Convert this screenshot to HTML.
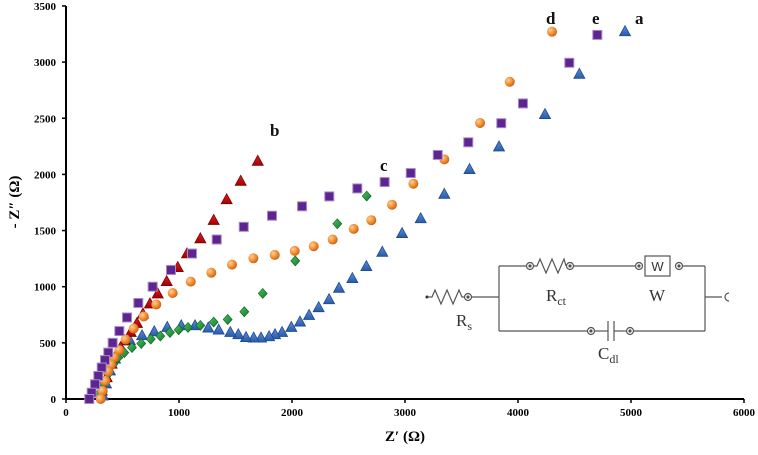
<!DOCTYPE html>
<html><head><meta charset="utf-8"><style>
body{margin:0;background:#fff;width:758px;height:450px;overflow:hidden}
svg text{font-family:"Liberation Serif",serif}
</style></head><body>
<svg id="chart" width="758" height="450">
<defs>
<radialGradient id="og" cx="0.35" cy="0.35" r="0.7"><stop offset="0" stop-color="#ffd09a"/><stop offset="0.6" stop-color="#f08a2a"/><stop offset="1" stop-color="#c4601a"/></radialGradient>
<linearGradient id="bg" x1="0" y1="0" x2="0" y2="1"><stop offset="0" stop-color="#5b8ed8"/><stop offset="1" stop-color="#2a5aa8"/></linearGradient>
<linearGradient id="rg" x1="0" y1="0" x2="0" y2="1"><stop offset="0" stop-color="#e02020"/><stop offset="1" stop-color="#a00000"/></linearGradient>
<linearGradient id="gg" x1="0" y1="0" x2="1" y2="1"><stop offset="0" stop-color="#4cc060"/><stop offset="1" stop-color="#127a2a"/></linearGradient>
</defs>
<g id="axes"></g>
<g id="marks"></g>
<g id="circuit" stroke="#555" stroke-width="1.2" fill="none">
<circle cx="427" cy="297" r="1.5" fill="#222" stroke="none"/>
<polyline points="427,297 432,297 435,290 441,304 447,290 453,304 459,290 462,297 464,297"/>
<circle cx="468" cy="297" r="3.5"/><circle cx="468" cy="297" r="1" fill="#333"/>
<line x1="472" y1="297" x2="499" y2="297"/>
<line x1="499" y1="266" x2="499" y2="331"/>
<line x1="499" y1="266" x2="526" y2="266"/>
<circle cx="530" cy="266" r="3.5"/><circle cx="530" cy="266" r="1" fill="#333"/>
<polyline points="534,266 537,266 540,259 546,273 552,259 558,273 564,259 566,266"/>
<circle cx="570" cy="266" r="3.5"/><circle cx="570" cy="266" r="1" fill="#333"/>
<line x1="574" y1="266" x2="635" y2="266"/>
<circle cx="639" cy="266" r="3.5"/><circle cx="639" cy="266" r="1" fill="#333"/>
<rect x="645" y="256" width="25" height="20"/>
<circle cx="679" cy="266" r="3.5"/><circle cx="679" cy="266" r="1" fill="#333"/>
<line x1="683" y1="266" x2="705" y2="266"/>
<line x1="705" y1="266" x2="705" y2="331"/>
<line x1="705" y1="297" x2="722" y2="297"/>
<path d="M729,293 A4,4 0 1 0 729,301"/>
<line x1="499" y1="331" x2="587" y2="331"/>
<circle cx="591" cy="331" r="3.5"/><circle cx="591" cy="331" r="1" fill="#333"/>
<line x1="595" y1="331" x2="608" y2="331"/>
<line x1="608" y1="321" x2="608" y2="341"/><line x1="614" y1="321" x2="614" y2="341"/>
<line x1="614" y1="331" x2="626" y2="331"/>
<circle cx="630" cy="331" r="3.5"/><circle cx="630" cy="331" r="1" fill="#333"/>
<line x1="634" y1="331" x2="705" y2="331"/>
<text x="657.5" y="271" font-size="13" fill="#333" stroke="none" text-anchor="middle" style="font-family:'Liberation Sans',sans-serif">W</text>
</g>
<g fill="#333" font-size="17">
<text x="456" y="326">R<tspan font-size="12" dy="4">s</tspan></text>
<text x="546" y="301">R<tspan font-size="12" dy="4">ct</tspan></text>
<text x="649" y="301">W</text>
<text x="598" y="359">C<tspan font-size="12" dy="4">dl</tspan></text>
</g>
<g font-weight="bold" font-size="17" fill="#111">
<text x="270" y="136">b</text>
<text x="380" y="171">c</text>
<text x="546" y="24">d</text>
<text x="592" y="24">e</text>
<text x="635" y="24">a</text>
</g>
<text x="405" y="441" font-size="15" font-weight="bold" text-anchor="middle">Z′ (Ω)</text>
<text transform="translate(19,202) rotate(-90)" font-size="15" font-weight="bold" text-anchor="middle">- Z″ (Ω)</text>
</svg>
<script>
const xTicks=[0,1000,2000,3000,4000,5000,6000];
const yTicks=[0,500,1000,1500,2000,2500,3000,3500];
const aX=[4947,4543,4239,3832,3571,3348,3139,2974,2799,2658,2534,2416,2328,2236,2151,2071,1994,1912,1850,1797,1726,1661,1593,1525,1454,1351,1259,1142,1020,896,781,673,566,478,434,389,354,327];
const aY=[3271,2891,2533,2244,2043,1822,1605,1473,1306,1179,1072,985,884,813,744,685,637,592,572,554,542,542,547,572,592,613,631,652,652,637,598,563,518,444,355,250,134,27];
const bX=[1697,1546,1422,1307,1189,1071,989,891,812,743,681,628,573,522,484,449,404,360,316];
const bY=[2116,1938,1774,1590,1426,1292,1170,1045,935,846,756,672,592,518,458,399,310,190,71];
const cX=[2661,2401,2029,1741,1578,1431,1307,1189,1080,997,920,835,750,666,584,516,463,419,374,330,292];
const cY=[1807,1560,1230,940,777,708,685,655,637,616,592,560,533,494,458,413,369,310,223,134,45];
const dX=[4301,3927,3664,3348,3074,2885,2702,2546,2360,2192,2024,1847,1658,1469,1286,1104,944,799,688,599,528,472,427,398,374,348,325,307];
const dY=[3271,2825,2458,2134,1917,1730,1592,1515,1420,1360,1319,1283,1253,1197,1125,1045,944,842,735,628,530,435,369,304,244,161,71,0];
const eX=[4702,4454,4044,3852,3560,3290,3051,2820,2578,2330,2089,1823,1573,1334,1115,929,767,640,540,472,413,374,345,316,286,257,227,206];
const eY=[3242,2994,2632,2456,2286,2173,2012,1932,1875,1804,1716,1632,1533,1420,1295,1149,1000,855,726,605,500,413,346,280,205,131,56,0];

const X=v=>66+v*0.113, Y=v=>399-v*0.1123;
const NS='http://www.w3.org/2000/svg';
function mk(tag,attrs,parent){const e=document.createElementNS(NS,tag);for(const k in attrs)e.setAttribute(k,attrs[k]);parent.appendChild(e);return e;}
const axes=document.getElementById('axes'), marks=document.getElementById('marks');
let ax=mk('line',{x1:66,y1:Y(0),x2:X(6000),y2:Y(0),stroke:'#000','stroke-width':2},axes);


let ay=mk('line',{x1:66,y1:Y(0),x2:66,y2:Y(3500),stroke:'#000','stroke-width':2},axes);


xTicks.forEach(t=>{
  mk('line',{x1:X(t),y1:Y(0),x2:X(t),y2:Y(0)+4,stroke:'#000','stroke-width':1.5},axes);
  const tx=mk('text',{x:X(t),y:Y(0)+17,'font-size':11,'font-weight':'bold','text-anchor':'middle'},axes);
  tx.textContent=t;
  
  
});
yTicks.forEach(t=>{
  mk('line',{x1:62,y1:Y(t),x2:66,y2:Y(t),stroke:'#000','stroke-width':1.5},axes);
  const tx=mk('text',{x:56,y:Y(t)+4,'font-size':11,'font-weight':'bold','text-anchor':'end'},axes);
  tx.textContent=t;
  
  
});
function tri(x,y,fill,stroke){return mk('polygon',{points:`${x},${y-6} ${x+5.5},${y+4} ${x-5.5},${y+4}`,fill:fill,stroke:stroke,'stroke-width':0.8},marks);}
aX.forEach((v,i)=>{const m=tri(X(v),Y(aY[i]),'url(#bg)','#1c4a90');
  
  });
bX.forEach((v,i)=>{const m=tri(X(v),Y(bY[i]),'url(#rg)','#800000');
  
  });
cX.forEach((v,i)=>{const x=X(v),y=Y(cY[i]);const m=mk('polygon',{points:`${x},${y-5} ${x+4.5},${y} ${x},${y+5} ${x-4.5},${y}`,fill:'url(#gg)',stroke:'#0d6020','stroke-width':0.6},marks);
  
  });
dX.forEach((v,i)=>{const m=mk('circle',{cx:X(v),cy:Y(dY[i]),r:5,fill:'url(#og)'},marks);
  
  });
eX.forEach((v,i)=>{const m=mk('rect',{x:X(v)-4.5,y:Y(eY[i])-4.5,width:9,height:9,fill:'#5e2590',stroke:'#a98bc8','stroke-width':1},marks);
  
  });
</script>
</body></html>
